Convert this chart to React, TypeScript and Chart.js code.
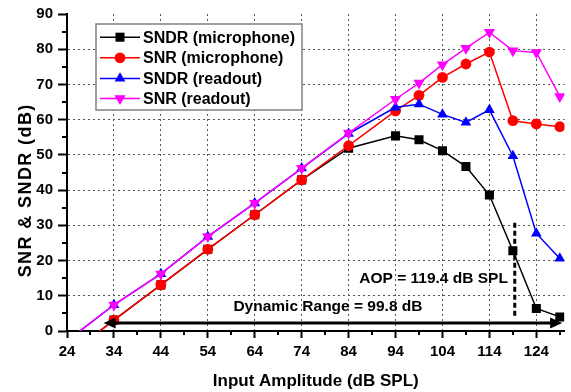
import React, { useEffect, useRef } from 'react';
import { Chart, registerables } from 'chart.js';

Chart.register(...registerables);

// ---------------- data ----------------
const xValues = [24, 34, 44, 54, 64, 74, 84, 94, 99, 104, 109, 114, 119, 124, 129];
const sndrMicrophone = [-7.2, 3.1, 13.1, 23.2, 33.0, 42.9, 51.9, 55.4, 54.3, 51.2, 46.7, 38.6, 22.8, 6.4, 4.0];
const snrMicrophone = [-7.2, 3.1, 13.1, 23.2, 33.0, 42.9, 52.6, 62.5, 66.9, 72.0, 75.8, 79.2, 59.7, 58.8, 58.0];
const sndrReadout = [-2.8, 7.4, 16.2, 26.8, 36.3, 46.2, 56.0, 63.5, 64.4, 61.5, 59.2, 62.8, 49.7, 27.7, 20.6];
const snrReadout = [-2.8, 7.4, 16.2, 26.8, 36.3, 46.2, 56.2, 65.8, 70.4, 75.6, 80.3, 84.8, 79.6, 79.1, 66.6];

const seriesLabels = ['SNDR (microphone)', 'SNR (microphone)', 'SNDR (readout)', 'SNR (readout)'];

const xTickValues = [24, 34, 44, 54, 64, 74, 84, 94, 104, 114, 124];
const xMinorTicks = [29, 39, 49, 59, 69, 79, 89, 99, 109, 119, 129];
const yMinorTicks = [5, 15, 25, 35, 45, 55, 65, 75, 85];

const xTitle = 'Input Amplitude (dB SPL)';
const yTitle = 'SNR & SNDR (dB)';

const aopValue = 119.4;
const aopLineRange = [4, 30.7];
const aopText = 'AOP = 119.4 dB SPL';
const aopTextPos = [102.1, 14.8];

const rangeArrow = [31.8, 129.5, 2.3];
const rangeText = 'Dynamic Range = 99.8 dB';
const rangeTextPos = [79.6, 6.9];

const FONT = "'Liberation Sans', Arial, sans-serif";

type Marker = { style: string; size: number; color: string; rot?: number };
const markers: Marker[] = [
  { style: 'rect', size: 6.4, color: '#000000' },
  { style: 'circle', size: 5.4, color: '#ff0000' },
  { style: 'triangle', size: 6.2, color: '#0000ff' },
  { style: 'triangle', size: 6.5, color: '#ff00ff', rot: 180 },
];

function drawMarker(ctx: CanvasRenderingContext2D, m: Marker, x: number, y: number) {
  ctx.save();
  ctx.fillStyle = m.color;
  ctx.beginPath();
  if (m.style === 'rect') {
    const s = m.size * Math.SQRT1_2;
    ctx.rect(x - s, y - s, 2 * s, 2 * s);
  } else if (m.style === 'circle') {
    ctx.arc(x, y, m.size, 0, Math.PI * 2);
  } else {
    const r = m.size;
    const d = m.rot ? -1 : 1;
    ctx.moveTo(x, y - d * r);
    ctx.lineTo(x + 0.866 * r, y + d * 0.5 * r);
    ctx.lineTo(x - 0.866 * r, y + d * 0.5 * r);
    ctx.closePath();
  }
  ctx.fill();
  ctx.restore();
}

const overlayPlugin = {
  id: 'overlay',
  afterDraw(chart: any) {
    const { ctx, chartArea } = chart;
    const xs = chart.scales.x;
    const ys = chart.scales.y;
    ctx.save();

    // minor ticks
    ctx.strokeStyle = '#000';
    ctx.lineWidth = 2;
    for (const v of xMinorTicks) {
      const px = Math.round(xs.getPixelForValue(v));
      ctx.beginPath();
      ctx.moveTo(px, chartArea.bottom);
      ctx.lineTo(px, chartArea.bottom + 4);
      ctx.stroke();
    }
    for (const v of yMinorTicks) {
      const py = Math.round(ys.getPixelForValue(v));
      ctx.beginPath();
      ctx.moveTo(chartArea.left, py);
      ctx.lineTo(chartArea.left - 5, py);
      ctx.stroke();
    }

    // AOP dashed line
    const ax = xs.getPixelForValue(aopValue);
    ctx.beginPath();
    ctx.setLineDash([5, 3]);
    ctx.lineWidth = 3;
    ctx.moveTo(ax, ys.getPixelForValue(aopLineRange[1]));
    ctx.lineTo(ax, ys.getPixelForValue(aopLineRange[0]));
    ctx.stroke();
    ctx.setLineDash([]);

    // Dynamic range arrow
    const x1 = xs.getPixelForValue(rangeArrow[0]);
    const x2 = xs.getPixelForValue(rangeArrow[1]);
    const ay = ys.getPixelForValue(rangeArrow[2]);
    const hl = 12;
    const hw = 5.5;
    ctx.lineWidth = 3;
    ctx.beginPath();
    ctx.moveTo(x1 + hl - 2, ay);
    ctx.lineTo(x2 - hl + 2, ay);
    ctx.stroke();
    ctx.fillStyle = '#000';
    ctx.beginPath();
    ctx.moveTo(x1, ay);
    ctx.lineTo(x1 + hl, ay - hw);
    ctx.lineTo(x1 + hl, ay + hw);
    ctx.closePath();
    ctx.fill();
    ctx.beginPath();
    ctx.moveTo(x2, ay);
    ctx.lineTo(x2 - hl, ay - hw);
    ctx.lineTo(x2 - hl, ay + hw);
    ctx.closePath();
    ctx.fill();

    // annotation texts
    ctx.font = `bold 15.5px ${FONT}`;
    ctx.textAlign = 'center';
    ctx.textBaseline = 'middle';
    ctx.fillText(aopText, xs.getPixelForValue(aopTextPos[0]), ys.getPixelForValue(aopTextPos[1]));
    ctx.fillText(rangeText, xs.getPixelForValue(rangeTextPos[0]), ys.getPixelForValue(rangeTextPos[1]));

    // legend
    const bx = 96, by = 24, bw = 206, bh = 86;
    ctx.fillStyle = '#fff';
    ctx.fillRect(bx, by, bw, bh);
    ctx.strokeStyle = '#808080';
    ctx.lineWidth = 1.5;
    ctx.strokeRect(bx, by, bw, bh);
    const rows = [37.2, 57.8, 78.4, 98.6];
    ctx.font = `bold 16px ${FONT}`;
    ctx.textAlign = 'left';
    ctx.textBaseline = 'middle';
    chart.data.datasets.forEach((ds: any, i: number) => {
      const ry = rows[i];
      ctx.strokeStyle = ds.borderColor;
      ctx.lineWidth = 1.5;
      ctx.beginPath();
      ctx.moveTo(100, ry);
      ctx.lineTo(140, ry);
      ctx.stroke();
      drawMarker(ctx, markers[i], 120, ry);
      ctx.fillStyle = '#000';
      ctx.fillText(ds.label, 143, ry + 1);
    });

    // y title
    ctx.save();
    ctx.translate(26, 191);
    ctx.rotate(-Math.PI / 2);
    ctx.font = `bold 18px ${FONT}`;
    (ctx as any).letterSpacing = '1.4px';
    ctx.fillStyle = '#000';
    ctx.textAlign = 'center';
    ctx.textBaseline = 'middle';
    ctx.fillText(yTitle, 0.7, 0);
    ctx.restore();

    ctx.restore();
  },
};

const seriesData = [sndrMicrophone, snrMicrophone, sndrReadout, snrReadout];

export default function App() {
  const ref = useRef<HTMLCanvasElement | null>(null);

  useEffect(() => {
    document.body.style.margin = '0';
    const canvas = ref.current;
    if (!canvas) return;
    Chart.defaults.color = '#000';
    Chart.defaults.font.family = FONT;

    const datasets = seriesData.map((arr, i) => ({
      label: seriesLabels[i],
      data: xValues.map((x, j) => ({ x, y: arr[j] })),
      borderColor: markers[i].color,
      backgroundColor: markers[i].color,
      borderWidth: 1.5,
      pointStyle: markers[i].style,
      pointRotation: markers[i].rot || 0,
      pointRadius: (c: any) => (c.dataIndex === 0 ? 0 : markers[i].size),
      pointBorderWidth: 0,
      pointBackgroundColor: markers[i].color,
      pointBorderColor: markers[i].color,
      tension: 0,
      order: 4 - i,
    }));

    const chart = new Chart(canvas, {
      type: 'line',
      data: { datasets },
      options: {
        animation: false,
        responsive: false,
        events: [],
        layout: { padding: { top: 14, right: 1, left: 0, bottom: 0 } },
        plugins: { legend: { display: false }, tooltip: { enabled: false } },
        scales: {
          x: {
            type: 'linear',
            min: 24,
            max: 130,
            afterBuildTicks: (scale: any) => {
              scale.ticks = xTickValues.map((v) => ({ value: v }));
            },
            afterFit: (scale: any) => {
              scale.height = 61;
            },
            ticks: {
              font: { size: 15, weight: 'bold' },
              padding: 5,
              maxRotation: 0,
              autoSkip: false,
              color: '#000',
            },
            grid: {
              color: '#555',
              lineWidth: 1,
              tickColor: '#000',
              tickWidth: 2,
              tickLength: 7,
              tickBorderDash: [],
            },
            border: { display: true, color: '#000', width: 2, dash: [2, 3] },
            title: {
              display: true,
              text: xTitle,
              font: { size: 17, weight: 'bold' },
              padding: { top: 0, bottom: 0 },
              color: '#000',
            },
          },
          y: {
            type: 'linear',
            min: 0,
            max: 90,
            afterFit: (scale: any) => {
              scale.width = 67;
            },
            ticks: {
              stepSize: 10,
              font: { size: 15, weight: 'bold' },
              padding: 5,
              color: '#000',
            },
            grid: {
              color: (c: any) => (c.tick && c.tick.value === 90 ? 'rgba(0,0,0,0)' : '#555'),
              lineWidth: 1,
              tickColor: '#000',
              tickWidth: 2,
              tickLength: 9,
              tickBorderDash: [],
            },
            border: { display: true, color: '#000', width: 2, dash: [2, 3] },
          },
        },
      },
      plugins: [overlayPlugin],
    } as any);

    return () => chart.destroy();
  }, []);

  return (
    <canvas
      ref={ref}
      width={571}
      height={392}
      style={{ display: 'block', width: 571, height: 392 }}
    />
  );
}
